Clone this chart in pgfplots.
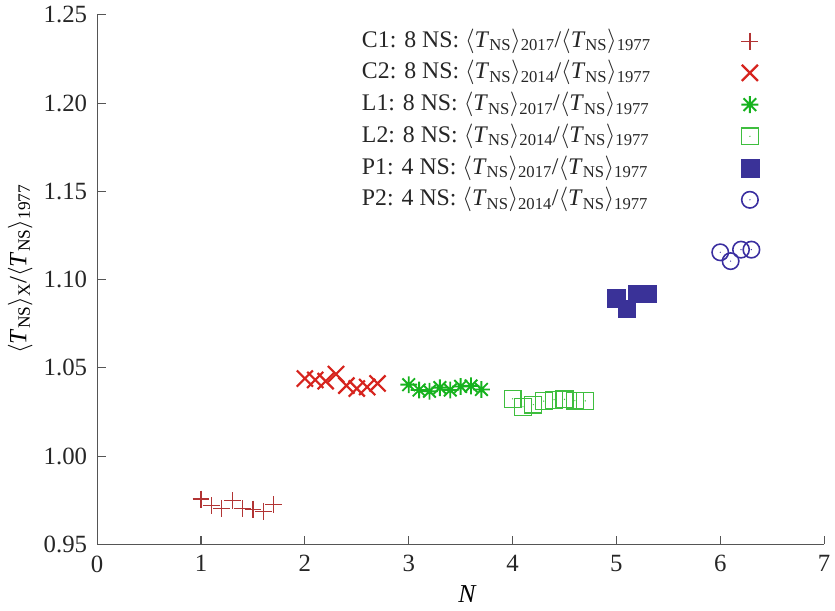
\documentclass[border=0pt]{standalone}
\usepackage{fontspec}
\setmainfont{Liberation Serif}
\usepackage{pgfplots}
\pgfplotsset{compat=1.18}
\usetikzlibrary{calc}
\definecolor{cCa}{RGB}{178,52,52}
\definecolor{cCb}{RGB}{214,36,30}
\definecolor{cLa}{RGB}{22,178,30}
\definecolor{cLb}{RGB}{62,190,62}
\definecolor{cPa}{RGB}{58,50,152}
\definecolor{cPb}{RGB}{58,46,160}
\definecolor{axgray}{RGB}{85,85,85}
\newcommand{\TNS}{$\langle$\textit{T}\textsubscript{NS}$\rangle$}
\pgfdeclareplotmark{squaredot}{%
  \pgfpathrectangle{\pgfpoint{-\pgfplotmarksize}{-\pgfplotmarksize}}{\pgfpoint{2\pgfplotmarksize}{2\pgfplotmarksize}}%
  \pgfusepathqstroke
  \pgfpathcircle{\pgfpointorigin}{0.7pt}\pgfusepathqfill}
\pgfdeclareplotmark{circledot}{%
  \pgfpathcircle{\pgfpointorigin}{\pgfplotmarksize}%
  \pgfusepathqstroke
  \pgfpathcircle{\pgfpointorigin}{0.7pt}\pgfusepathqfill}
\pgfdeclareplotmark{star8}{%
  \pgfpathmoveto{\pgfqpoint{-\pgfplotmarksize}{0pt}}\pgfpathlineto{\pgfqpoint{\pgfplotmarksize}{0pt}}%
  \pgfpathmoveto{\pgfqpoint{0pt}{-\pgfplotmarksize}}\pgfpathlineto{\pgfqpoint{0pt}{\pgfplotmarksize}}%
  \pgfpathmoveto{\pgfqpoint{-.75\pgfplotmarksize}{-.75\pgfplotmarksize}}\pgfpathlineto{\pgfqpoint{.75\pgfplotmarksize}{.75\pgfplotmarksize}}%
  \pgfpathmoveto{\pgfqpoint{-.75\pgfplotmarksize}{.75\pgfplotmarksize}}\pgfpathlineto{\pgfqpoint{.75\pgfplotmarksize}{-.75\pgfplotmarksize}}%
  \pgfusepathqstroke}
\begin{document}
\fontsize{24pt}{28pt}\selectfont
\begin{tikzpicture}
\begin{axis}[name=ax, scale only axis, width=733pt, height=534pt,
  xmin=0, xmax=7, ymin=0.95, ymax=1.25,
  axis x line*=bottom, axis y line*=left,
  axis line style={draw=axgray, line width=1.1pt},
  tick style={draw=axgray, line width=1.1pt},
  tick align=inside, major tick length=9pt,
  xtick={0,1,2,3,4,5,6,7},
  ytick={0.95,1.00,1.05,1.10,1.15,1.20,1.25},
  ticklabel style={text=black!85, font=\fontsize{25pt}{29pt}\selectfont},
  xticklabel style={yshift=-3pt},
  yticklabel style={xshift=-2pt, /pgf/number format/.cd, fixed, fixed zerofill, precision=2},
  /pgf/number format/assume math mode=true,
  xlabel={\textit{N}},
  xlabel style={at={(axis description cs:0.5096,-0.093)}, anchor=center, font=\fontsize{26pt}{30pt}\selectfont},
  ylabel={\TNS\textsubscript{X}/\TNS\textsubscript{1977}},
  ylabel style={at={(axis description cs:-0.106,0.52)}, anchor=center, font=\fontsize{25pt}{29pt}\selectfont},
  clip=false,
  legend plot pos=right,
  legend cell align=left,
  legend style={draw=none, fill=none, at={(axis description cs:0.364,0.977)}, anchor=north west,
    inner sep=0pt, row sep=4pt, nodes={inner sep=0pt, text height=20pt, text depth=8pt, text=black!85}},
  legend image code/.code={\path (0pt,0pt) (115pt,0pt); \draw[#1] plot coordinates {(99pt,0pt)};},
]
\addplot[only marks, mark=+, mark size=8.5pt, line width=1.2pt, color=cCa] coordinates {
(1.0,0.9757)(1.1,0.9719)(1.2,0.9705)(1.3,0.9747)(1.4,0.9704)(1.5,0.9700)(1.6,0.9688)(1.7,0.9725)};
\addlegendentry{C1: 8 NS: \TNS\textsubscript{2017}/\TNS\textsubscript{1977}}
\addplot[only marks, mark=x, mark size=11.5pt, line width=2.2pt, color=cCb] coordinates {
(2.0,1.0440)(2.1,1.0432)(2.2,1.0425)(2.3,1.0465)(2.4,1.0400)(2.5,1.0383)(2.6,1.0392)(2.7,1.0412)};
\addlegendentry{C2: 8 NS: \TNS\textsubscript{2014}/\TNS\textsubscript{1977}}
\addplot[only marks, mark=star8, mark size=8.5pt, line width=1.9pt, color=cLa] coordinates {
(3.0,1.0405)(3.1,1.0375)(3.2,1.0368)(3.3,1.0388)(3.4,1.0375)(3.5,1.0395)(3.6,1.0398)(3.7,1.0378)};
\addlegendentry{L1: 8 NS: \TNS\textsubscript{2017}/\TNS\textsubscript{1977}}
\addplot[only marks, mark=squaredot, mark size=8.5pt, line width=1.2pt, color=cLb] coordinates {
(4.0,1.0325)(4.1,1.0280)(4.2,1.0292)(4.3,1.0312)(4.4,1.0320)(4.5,1.0322)(4.6,1.0315)(4.7,1.0313)};
\addlegendentry{L2: 8 NS: \TNS\textsubscript{2014}/\TNS\textsubscript{1977}}
\addplot[only marks, mark=square*, mark size=9pt, line width=0.5pt, color=cPa] coordinates {
(5.0,1.0895)(5.1,1.0835)(5.2,1.0920)(5.3,1.0920)};
\addlegendentry{P1: 4 NS: \TNS\textsubscript{2017}/\TNS\textsubscript{1977}}
\addplot[only marks, mark=circledot, mark size=8.3pt, line width=1.6pt, color=cPb] coordinates {
(6.0,1.1155)(6.1,1.1105)(6.2,1.1170)(6.3,1.1170)};
\addlegendentry{P2: 4 NS: \TNS\textsubscript{2014}/\TNS\textsubscript{1977}}
\end{axis}
\pgfresetboundingbox
\path ($(ax.south west)+(-98pt,-67pt)$) rectangle ($(ax.south west)+(744pt,549pt)$);
\end{tikzpicture}
\end{document}
